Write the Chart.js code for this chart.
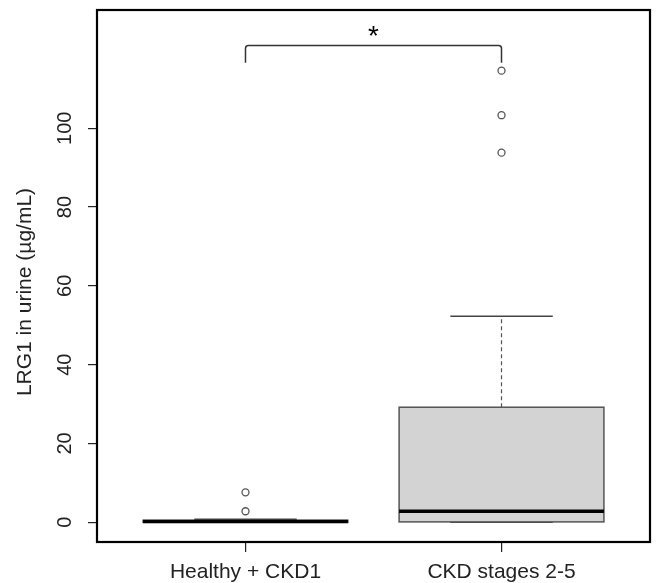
<!DOCTYPE html>
<html>
<head>
<meta charset="utf-8">
<script src="https://cdn.jsdelivr.net/npm/chart.js@4.4.1/dist/chart.umd.min.js"></script>
<style>
  body { margin: 0; background: #fff; }
  canvas { display: block; }
</style>
</head>
<body>
<canvas id="chart" width="656" height="583"></canvas>
<script>
// values (µg/mL)
const categories = ['Healthy + CKD1', 'CKD stages 2-5'];
const lowerWhisker = [0, 0];
const q1 = [0, 0.1];
const median = [0.2, 2.8];
const q3 = [0.5, 29.2];
const upperWhisker = [0.8, 52.3];
const outliers = [[2.8, 7.6], [93.8, 103.3, 114.6]];
const yTicks = [0, 20, 40, 60, 80, 100];
// significance bracket between the two groups
const bracketY = 121;
const bracketEnd = 116.6;
const bracketLabel = '*';

const FONT = '"Liberation Sans", Arial, sans-serif';

const outlierPoints = [];
outliers.forEach((arr, i) => arr.forEach(v => outlierPoints.push({ x: i + 1, y: v })));

const boxPlugin = {
  id: 'boxes',
  beforeDatasetsDraw(chart) {
    const ctx = chart.ctx;
    const xs = chart.scales.x, ys = chart.scales.y;
    ctx.save();
    categories.forEach((c, i) => {
      const cx = xs.getPixelForValue(i + 1);
      const hw = xs.getPixelForValue(i + 1.4) - cx;
      const sw = hw / 2;
      const yq1 = ys.getPixelForValue(q1[i]);
      const yq3 = ys.getPixelForValue(q3[i]);
      const ymed = ys.getPixelForValue(median[i]);
      const ylo = ys.getPixelForValue(lowerWhisker[i]);
      const yhi = ys.getPixelForValue(upperWhisker[i]);

      // whiskers
      ctx.strokeStyle = '#555';
      ctx.lineWidth = 1.2;
      ctx.setLineDash([4, 3]);
      ctx.beginPath();
      ctx.moveTo(cx, yq3); ctx.lineTo(cx, yhi);
      ctx.moveTo(cx, yq1); ctx.lineTo(cx, ylo);
      ctx.stroke();
      ctx.setLineDash([]);
      ctx.strokeStyle = '#444';
      ctx.lineWidth = 1.5;
      ctx.beginPath();
      ctx.moveTo(cx - sw, yhi); ctx.lineTo(cx + sw, yhi);
      ctx.moveTo(cx - sw, ylo); ctx.lineTo(cx + sw, ylo);
      ctx.stroke();

      // box
      ctx.fillStyle = '#d3d3d3';
      ctx.fillRect(cx - hw, yq3, 2 * hw, yq1 - yq3);
      ctx.strokeStyle = '#555';
      ctx.lineWidth = 1.5;
      ctx.strokeRect(cx - hw, yq3, 2 * hw, yq1 - yq3);

      // median
      ctx.strokeStyle = '#000';
      ctx.lineWidth = 3.5;
      ctx.beginPath();
      ctx.moveTo(cx - hw, ymed); ctx.lineTo(cx + hw, ymed);
      ctx.stroke();
    });
    ctx.restore();
  },
  afterDraw(chart) {
    const ctx = chart.ctx;
    const a = chart.chartArea;
    const xs = chart.scales.x, ys = chart.scales.y;
    ctx.save();
    // frame
    ctx.strokeStyle = '#000';
    ctx.lineWidth = 2.2;
    ctx.strokeRect(a.left, a.top, a.right - a.left, a.bottom - a.top);

    // y tick labels, rotated like R
    ctx.fillStyle = '#222';
    ctx.font = '20px ' + FONT;
    ctx.textAlign = 'center';
    ctx.textBaseline = 'middle';
    yTicks.forEach(v => {
      ctx.save();
      ctx.translate(65, ys.getPixelForValue(v));
      ctx.rotate(-Math.PI / 2);
      ctx.fillText(String(v), 0, 0);
      ctx.restore();
    });

    // y title
    ctx.save();
    ctx.font = '21px ' + FONT;
    ctx.translate(25, 292);
    ctx.rotate(-Math.PI / 2);
    ctx.fillText('LRG1 in urine (µg/mL)', 0, 0);
    ctx.restore();

    // significance bracket
    const x1 = xs.getPixelForValue(1), x2 = xs.getPixelForValue(2);
    const yb = ys.getPixelForValue(bracketY), ye = ys.getPixelForValue(bracketEnd);
    ctx.strokeStyle = '#333';
    ctx.lineWidth = 1.5;
    ctx.beginPath();
    ctx.moveTo(x1, ye);
    ctx.lineTo(x1, yb + 3);
    ctx.quadraticCurveTo(x1, yb, x1 + 3, yb);
    ctx.lineTo(x2 - 3, yb);
    ctx.quadraticCurveTo(x2, yb, x2, yb + 3);
    ctx.lineTo(x2, ye);
    ctx.stroke();
    ctx.fillStyle = '#000';
    ctx.font = '28px ' + FONT;
    ctx.fillText(bracketLabel, (x1 + x2) / 2, yb - 8);
    ctx.restore();
  }
};

new Chart(document.getElementById('chart'), {
  type: 'scatter',
  data: {
    datasets: [{
      label: 'outliers',
      data: outlierPoints,
      pointStyle: 'circle',
      pointRadius: 3.5,
      pointBackgroundColor: '#fff',
      pointBorderColor: '#555',
      pointBorderWidth: 1.3
    }]
  },
  options: {
    responsive: false,
    animation: false,
    layout: { padding: { top: 10, right: 6, left: 0, bottom: 0 } },
    plugins: { legend: { display: false }, tooltip: { enabled: false } },
    scales: {
      x: {
        type: 'linear',
        min: 0.42,
        max: 2.58,
        afterBuildTicks: s => { s.ticks = [{ value: 1 }, { value: 2 }]; },
        afterFit: s => { s.height = 41; },
        grid: { drawOnChartArea: false, drawTicks: true, tickLength: 10, color: '#222', lineWidth: 1.2 },
        border: { display: false },
        ticks: {
          callback: v => categories[v - 1],
          font: { size: 21, family: FONT },
          color: '#222',
          padding: 8,
          maxRotation: 0,
          autoSkip: false
        }
      },
      y: {
        min: -5,
        max: 130,
        afterBuildTicks: s => { s.ticks = yTicks.map(v => ({ value: v })); },
        afterFit: s => { s.width = 97; },
        grid: { drawOnChartArea: false, drawTicks: true, tickLength: 9, color: '#222', lineWidth: 1.2 },
        border: { display: false },
        ticks: { display: false }
      }
    }
  },
  plugins: [boxPlugin]
});
</script>
</body>
</html>
